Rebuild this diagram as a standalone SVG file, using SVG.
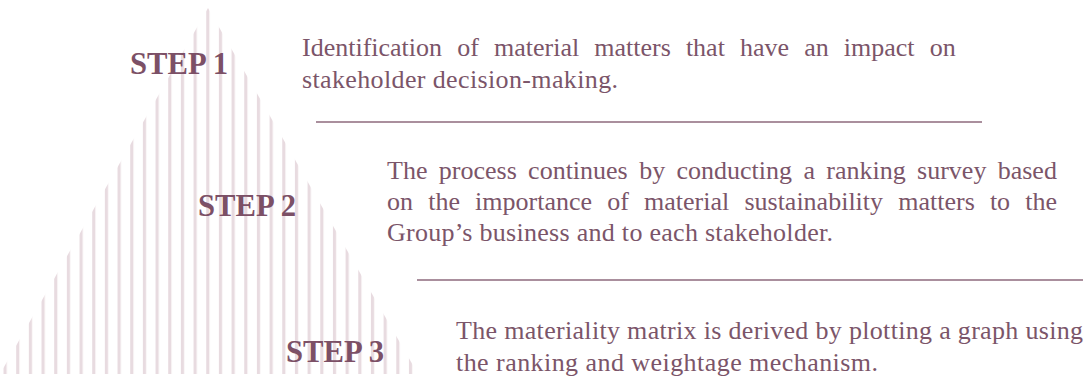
<svg xmlns="http://www.w3.org/2000/svg" width="1087" height="378" viewBox="0 0 1087 378">
  <defs>
    <pattern id="stripes" patternUnits="userSpaceOnUse" x="3.5" y="0" width="12.67" height="378">
      <rect x="0" y="0" width="3.2" height="378" fill="#e8dbe0"/>
    </pattern>
    <style>
      .step { font-family: "Liberation Serif", "DejaVu Serif", serif; font-weight: bold; font-size: 32px; fill: #7c5066; }
      .body { font-family: "Liberation Serif", "DejaVu Serif", serif; font-size: 26px; fill: #7b5569; }
      .sep { stroke: #8e6a7c; stroke-width: 1.3; fill: none; }
    </style>
  </defs>
  <rect width="1087" height="378" fill="#ffffff"/>
  <g id="pyramid">
    <polygon points="208,8 0,374 418,374" fill="url(#stripes)"/>
  </g>
  <g id="connectors">
    <line class="sep" x1="316" y1="122" x2="982" y2="122"/>
    <line class="sep" x1="417" y1="280" x2="1083" y2="280"/>
  </g>
  <g id="step1">
    <text class="step" x="130" y="74" textLength="98" lengthAdjust="spacingAndGlyphs">STEP 1</text>
    <text class="body" y="56"><tspan x="302">Identification</tspan><tspan x="457.2">of</tspan><tspan x="494">material</tspan><tspan x="594.3">matters</tspan><tspan x="685.9">that</tspan><tspan x="740">have</tspan><tspan x="804.2">an</tspan><tspan x="843.8">impact</tspan><tspan x="929.7">on</tspan></text>
    <text class="body" x="302" y="88" textLength="316" lengthAdjust="spacing">stakeholder decision-making.</text>
  </g>
  <g id="step2">
    <text class="step" x="198" y="216" textLength="98" lengthAdjust="spacingAndGlyphs">STEP 2</text>
    <text class="body" y="179"><tspan x="387">The</tspan><tspan x="438.8">process</tspan><tspan x="528.1">continues</tspan><tspan x="639.2">by</tspan><tspan x="676.5">conducting</tspan><tspan x="803.4">a</tspan><tspan x="826.3">ranking</tspan><tspan x="917.1">survey</tspan><tspan x="997.7">based</tspan></text>
    <text class="body" y="210"><tspan x="387">on</tspan><tspan x="428.2">the</tspan><tspan x="475.1">importance</tspan><tspan x="607.2">of</tspan><tspan x="644.1">material</tspan><tspan x="744.4">sustainability</tspan><tspan x="898.3">matters</tspan><tspan x="989.9">to</tspan><tspan x="1025.3">the</tspan></text>
    <text class="body" x="387" y="241" textLength="446" lengthAdjust="spacing">Group’s business and to each stakeholder.</text>
  </g>
  <g id="step3">
    <text class="step" x="286" y="362" textLength="98" lengthAdjust="spacingAndGlyphs">STEP 3</text>
    <text class="body" x="456" y="339" textLength="627" lengthAdjust="spacing">The materiality matrix is derived by plotting a graph using</text>
    <text class="body" x="456" y="371" textLength="422" lengthAdjust="spacing">the ranking and weightage mechanism.</text>
  </g>
</svg>
